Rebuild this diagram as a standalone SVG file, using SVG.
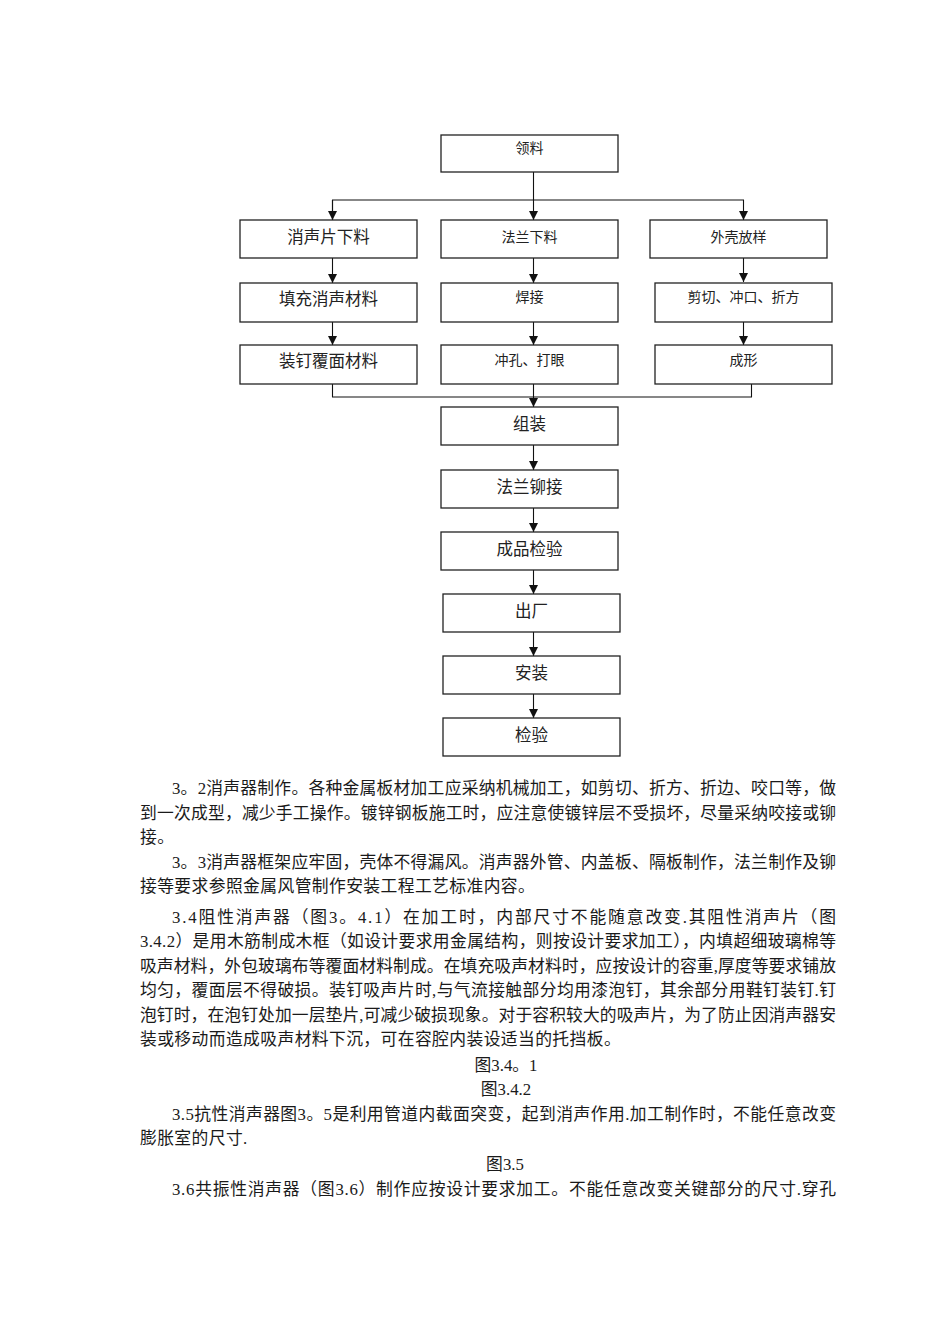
<svg xmlns="http://www.w3.org/2000/svg" width="950" height="1344" viewBox="0 0 950 1344">
<style>
.box{fill:#fff;stroke:#222;stroke-width:1.3}
.ln{fill:none;stroke:#111;stroke-width:1.1}
.lb{font-family:"Liberation Serif","Noto Sans CJK SC",serif;fill:#222;text-anchor:middle}
.big{font-size:16.5px}
.sm{font-size:14px}
.body{font-family:"Liberation Serif","Noto Sans CJK SC",serif;font-size:16.8px;fill:#1a1a1a}
.free{letter-spacing:0.4px}
.cap{text-anchor:middle}
</style>
<defs>
<marker id="arr" viewBox="0 0 10 10" refX="10" refY="5" markerWidth="10" markerHeight="9" markerUnits="userSpaceOnUse" orient="auto">
<path d="M0,0 L10,5 L0,10 z" fill="#111"/>
</marker>
</defs>
<rect width="950" height="1344" fill="#fff"/>

<g id="connectors">
<path class="ln" d="M533.5,172 V200"/>
<path class="ln" d="M332.5,220 V200 H743.5 V220" marker-end="url(#arr)"/>
<path class="ln" d="M332.5,200 V220" marker-end="url(#arr)"/>
<path class="ln" d="M533.5,200 V220" marker-end="url(#arr)"/>
<path class="ln" d="M332.5,258 V283" marker-end="url(#arr)"/>
<path class="ln" d="M533.5,258 V283" marker-end="url(#arr)"/>
<path class="ln" d="M743.5,258 V282" marker-end="url(#arr)"/>
<path class="ln" d="M332.5,322 V345" marker-end="url(#arr)"/>
<path class="ln" d="M533.5,322 V345" marker-end="url(#arr)"/>
<path class="ln" d="M743.5,322 V345" marker-end="url(#arr)"/>
<path class="ln" d="M332.5,384 V397 H751.5 V384"/>
<path class="ln" d="M533.5,384 V407" marker-end="url(#arr)"/>
<path class="ln" d="M533.5,445 V470" marker-end="url(#arr)"/>
<path class="ln" d="M533.5,508 V532" marker-end="url(#arr)"/>
<path class="ln" d="M533.5,570 V594" marker-end="url(#arr)"/>
<path class="ln" d="M533.5,632 V656" marker-end="url(#arr)"/>
<path class="ln" d="M533.5,694 V718" marker-end="url(#arr)"/>
</g>

<g id="n-lingliao"><rect class="box" x="441" y="135" width="177" height="37"/><text class="lb sm" x="529.5" y="152.5">领料</text></g>

<g id="n-xspxl"><rect class="box" x="240" y="220" width="177" height="38"/><text class="lb big" x="328.5" y="243">消声片下料</text></g>
<g id="n-flxl"><rect class="box" x="441" y="220" width="177" height="38"/><text class="lb sm" x="529.5" y="241.5">法兰下料</text></g>
<g id="n-wkfy"><rect class="box" x="650" y="220" width="177" height="38"/><text class="lb sm" x="738.5" y="241.5">外壳放样</text></g>

<g id="n-tcxscl"><rect class="box" x="240" y="283" width="177" height="39"/><text class="lb big" x="328.5" y="305">填充消声材料</text></g>
<g id="n-hanjie"><rect class="box" x="441" y="283" width="177" height="39"/><text class="lb sm" x="529.5" y="302">焊接</text></g>
<g id="n-jqck"><rect class="box" x="655" y="283" width="177" height="39"/><text class="lb sm" x="743.5" y="302">剪切、冲口、折方</text></g>

<g id="n-zdfm"><rect class="box" x="240" y="345" width="177" height="39"/><text class="lb big" x="328.5" y="367">装钉覆面材料</text></g>
<g id="n-ckdy"><rect class="box" x="441" y="345" width="177" height="39"/><text class="lb sm" x="529.5" y="364.5">冲孔、打眼</text></g>
<g id="n-chengxing"><rect class="box" x="655" y="345" width="177" height="39"/><text class="lb sm" x="743.5" y="364.5">成形</text></g>

<g id="n-zuzhuang"><rect class="box" x="441" y="407" width="177" height="38"/><text class="lb big" x="529.5" y="429.5">组装</text></g>
<g id="n-flmj"><rect class="box" x="441" y="470" width="177" height="38"/><text class="lb big" x="529.5" y="492.5">法兰铆接</text></g>
<g id="n-cpjy"><rect class="box" x="441" y="532" width="177" height="38"/><text class="lb big" x="529.5" y="554.5">成品检验</text></g>
<g id="n-chuchang"><rect class="box" x="443" y="594" width="177" height="38"/><text class="lb big" x="531.5" y="617">出厂</text></g>
<g id="n-anzhuang"><rect class="box" x="443" y="656" width="177" height="38"/><text class="lb big" x="531.5" y="679">安装</text></g>
<g id="n-jianyan"><rect class="box" x="443" y="718" width="177" height="38"/><text class="lb big" x="531.5" y="740.5">检验</text></g>

<g id="body-text">
<text class="body" x="172" y="794" textLength="664" lengthAdjust="spacing">3。2消声器制作。各种金属板材加工应采纳机械加工，如剪切、折方、折边、咬口等，做</text>
<text class="body" x="140" y="819" textLength="696" lengthAdjust="spacing">到一次成型，减少手工操作。镀锌钢板施工时，应注意使镀锌层不受损坏，尽量采纳咬接或铆</text>
<text class="body free" x="140" y="843">接。</text>
<text class="body" x="172" y="868" textLength="664" lengthAdjust="spacing">3。3消声器框架应牢固，壳体不得漏风。消声器外管、内盖板、隔板制作，法兰制作及铆</text>
<text class="body free" x="140" y="892">接等要求参照金属风管制作安装工程工艺标准内容。</text>
<text class="body" x="172" y="923" textLength="664" lengthAdjust="spacing">3.4阻性消声器（图3。4.1）在加工时，内部尺寸不能随意改变.其阻性消声片（图</text>
<text class="body" x="140" y="947" textLength="696" lengthAdjust="spacing">3.4.2）是用木筋制成木框（如设计要求用金属结构，则按设计要求加工），内填超细玻璃棉等</text>
<text class="body" x="140" y="972" textLength="696" lengthAdjust="spacing">吸声材料，外包玻璃布等覆面材料制成。在填充吸声材料时，应按设计的容重,厚度等要求铺放</text>
<text class="body" x="140" y="996" textLength="696" lengthAdjust="spacing">均匀，覆面层不得破损。装钉吸声片时,与气流接触部分均用漆泡钉，其余部分用鞋钉装钉.钉</text>
<text class="body" x="140" y="1021" textLength="696" lengthAdjust="spacing">泡钉时，在泡钉处加一层垫片,可减少破损现象。对于容积较大的吸声片，为了防止因消声器安</text>
<text class="body free" x="140" y="1045">装或移动而造成吸声材料下沉，可在容腔内装设适当的托挡板。</text>
<text class="body cap" x="506" y="1071">图3.4。1</text>
<text class="body cap" x="506" y="1095">图3.4.2</text>
<text class="body" x="172" y="1120" textLength="664" lengthAdjust="spacing">3.5抗性消声器图3。5是利用管道内截面突变，起到消声作用.加工制作时，不能任意改变</text>
<text class="body free" x="140" y="1144">膨胀室的尺寸.</text>
<text class="body cap" x="505" y="1170">图3.5</text>
<text class="body" x="172" y="1195" textLength="664" lengthAdjust="spacing">3.6共振性消声器（图3.6）制作应按设计要求加工。不能任意改变关键部分的尺寸.穿孔</text>
</g>
</svg>
